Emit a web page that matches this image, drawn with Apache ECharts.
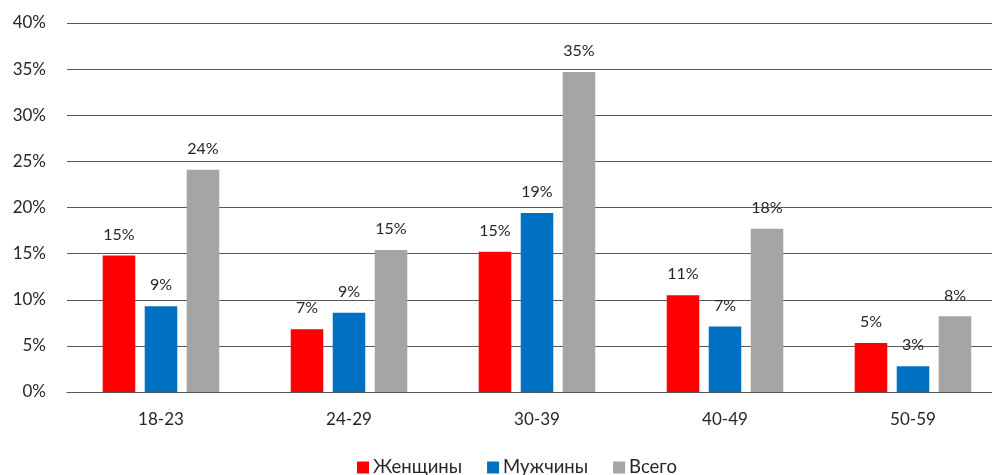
<!DOCTYPE html>
<html>
<head>
<meta charset="utf-8">
<script src="https://cdn.jsdelivr.net/npm/echarts@6/dist/echarts.min.js"></script>
<style>
  html, body { margin: 0; padding: 0; background: #fff; overflow: hidden; }
  #chart { width: 992px; height: 475px; }
</style>
</head>
<body>
<div id="chart"></div>
<script>
// Age groups along the x axis
const categories = ['18-23', '24-29', '30-39', '40-49', '50-59'];

// Share of respondents in each age group, percent
const women = [14.8, 6.8, 15.2, 10.5, 5.3];
const men = [9.3, 8.6, 19.4, 7.1, 2.8];
const total = [24.1, 15.4, 34.7, 17.7, 8.2];

const seriesNames = ['Женщины', 'Мужчины', 'Всего'];
const seriesColors = ['#FF0000', '#0070C0', '#A5A5A5'];

const FONT = 'Lato, "Open Sans", sans-serif';

function barSeries(name, data, color) {
  return {
    name: name,
    type: 'bar',
    data: data,
    barGap: '29%',
    barCategoryGap: '38%',
    itemStyle: { color: color },
    label: {
      show: true,
      position: 'top',
      distance: 13,
      fontFamily: FONT,
      fontSize: 16,
      color: '#262626',
      formatter: p => Math.round(p.value) + '%'
    }
  };
}

const chart = echarts.init(document.getElementById('chart'), null, { renderer: 'canvas' });
chart.setOption({
  animation: false,
  textStyle: { fontFamily: FONT },
  legend: {
    top: 453,
    left: 352,
    padding: [5, 5],
    itemWidth: 12,
    itemHeight: 12,
    itemGap: 25,
    icon: 'rect',
    textStyle: { fontFamily: FONT, fontSize: 18.5, color: '#262626', padding: [0, 0, 0, -1] },
    data: seriesNames
  },
  // the plot runs a little past the right edge, so its gridlines reach the border
  grid: {
    left: 67, width: 940, top: 23, bottom: 83,
    containLabel: false,
    outerBoundsMode: 'none'
  },
  xAxis: {
    type: 'category',
    data: categories,
    axisLine: { show: true, lineStyle: { color: '#595959', width: 1 } },
    axisTick: { show: false },
    axisLabel: { fontFamily: FONT, fontSize: 17, color: '#262626', margin: 19 }
  },
  yAxis: {
    type: 'value',
    min: 0,
    max: 40,
    interval: 5,
    axisLine: { show: false },
    axisTick: { show: false },
    axisLabel: {
      fontFamily: FONT, fontSize: 17, color: '#262626', margin: 21,
      formatter: v => v + '%'
    },
    splitLine: { lineStyle: { color: '#595959', width: 1 } }
  },
  series: [
    barSeries(seriesNames[0], women, seriesColors[0]),
    barSeries(seriesNames[1], men, seriesColors[1]),
    barSeries(seriesNames[2], total, seriesColors[2])
  ]
});
</script>
</body>
</html>
